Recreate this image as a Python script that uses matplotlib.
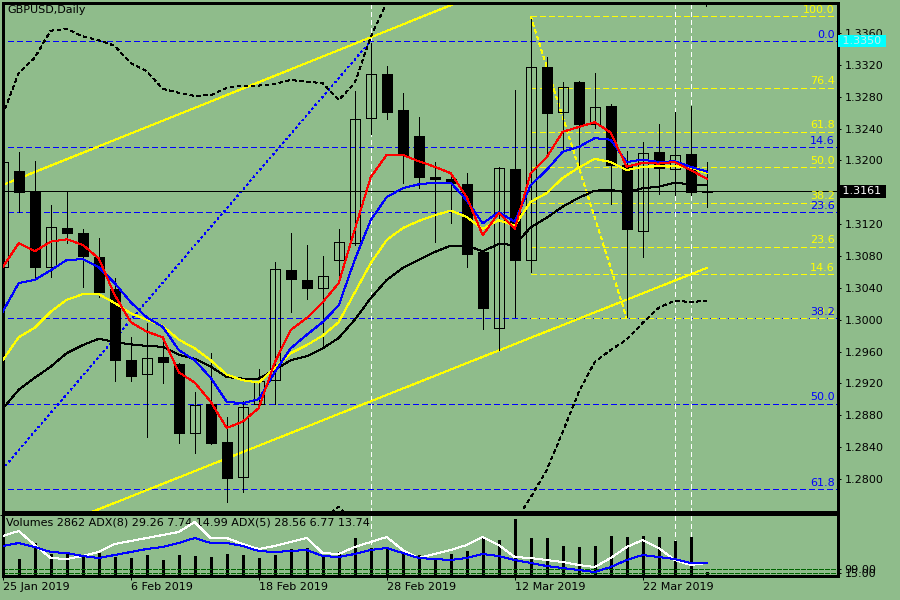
import numpy as np
import matplotlib
matplotlib.use('Agg')
from matplotlib import pyplot as plt

plt.rcParams['lines.scale_dashes'] = False
plt.rcParams['lines.antialiased'] = False
plt.rcParams['patch.antialiased'] = False
plt.rcParams['font.family'] = 'DejaVu Sans'

BG = '#8fbc8b'

# --- data (GBPUSD daily, 25 Jan - 28 Mar 2019) ---
date_labels = ['25 Jan 2019', '6 Feb 2019', '18 Feb 2019', '28 Feb 2019', '12 Mar 2019', '22 Mar 2019']
date_pos = [0, 8, 16, 24, 32, 40]

opens = [1.3066, 1.3187, 1.3162, 1.3066, 1.3115, 1.3109, 1.3079, 1.3039, 1.2949, 1.2932,
         1.2953, 1.2944, 1.2858, 1.2894, 1.2846, 1.2802, 1.2894, 1.2924, 1.3062, 1.3050,
         1.3040, 1.3075, 1.3096, 1.3253, 1.3309, 1.3263, 1.3231, 1.3179, 1.3177, 1.3170,
         1.3085, 1.2990, 1.3189, 1.3075, 1.3317, 1.3261, 1.3299, 1.3246, 1.3268, 1.3194,
         1.3111, 1.3211, 1.3189, 1.3208, 1.3160]
highs = [1.3205, 1.3211, 1.3199, 1.3144, 1.3160, 1.3114, 1.3103, 1.3052, 1.2978, 1.2996,
         1.2976, 1.2946, 1.2909, 1.2958, 1.2878, 1.2898, 1.2938, 1.3073, 1.3109, 1.3094,
         1.3080, 1.3114, 1.3287, 1.3348, 1.3319, 1.3285, 1.3255, 1.3198, 1.3183, 1.3184,
         1.3086, 1.3192, 1.3289, 1.3378, 1.3330, 1.3299, 1.3300, 1.3310, 1.3271, 1.3212,
         1.3223, 1.3246, 1.3261, 1.3268, 1.3198]
lows = [1.3060, 1.3135, 1.3054, 1.3054, 1.3096, 1.3041, 1.3029, 1.2923, 1.2923, 1.2853,
        1.2921, 1.2845, 1.2833, 1.2844, 1.2771, 1.2784, 1.2893, 1.2894, 1.3010, 1.3026,
        1.2967, 1.3047, 1.3094, 1.3233, 1.3252, 1.3172, 1.3165, 1.3098, 1.3121, 1.3066,
        1.2988, 1.2962, 1.3003, 1.3060, 1.3207, 1.3211, 1.3194, 1.3241, 1.3145, 1.3003,
        1.3079, 1.3158, 1.3157, 1.3157, 1.3142]
closes = [1.3198, 1.3160, 1.3066, 1.3116, 1.3109, 1.3080, 1.3035, 1.2949, 1.2929, 1.2952,
          1.2947, 1.2858, 1.2893, 1.2845, 1.2801, 1.2890, 1.2923, 1.3064, 1.3051, 1.3040,
          1.3055, 1.3098, 1.3252, 1.3309, 1.3261, 1.3207, 1.3179, 1.3177, 1.3172, 1.3083,
          1.3015, 1.3191, 1.3075, 1.3317, 1.3260, 1.3292, 1.3246, 1.3267, 1.3194, 1.3114,
          1.3209, 1.3191, 1.3207, 1.3160, 1.3161]

ma_red = [1.3066, 1.3096, 1.3086, 1.3098, 1.3101, 1.3094, 1.3077, 1.3031, 1.2997, 1.2985,
          1.2978, 1.2934, 1.2921, 1.2897, 1.2864, 1.2872, 1.2889, 1.2946, 1.2987, 1.3002,
          1.3022, 1.3046, 1.3113, 1.3179, 1.3207, 1.3207, 1.3199, 1.3192, 1.3184, 1.3154,
          1.3106, 1.3134, 1.3114, 1.3184, 1.3204, 1.3236, 1.3242, 1.3248, 1.3235, 1.3192,
          1.3197, 1.3196, 1.3198, 1.3188, 1.3177]
ma_blue = [1.3010, 1.3046, 1.3050, 1.3062, 1.3075, 1.3076, 1.3066, 1.3046, 1.3022, 1.3003,
           1.2991, 1.2962, 1.2949, 1.2927, 1.2897, 1.2895, 1.2900, 1.2934, 1.2964, 1.2981,
           1.2997, 1.3018, 1.3075, 1.3125, 1.3154, 1.3165, 1.3170, 1.3172, 1.3172, 1.3150,
           1.3121, 1.3135, 1.3123, 1.3169, 1.3188, 1.3211, 1.3217, 1.3228, 1.3226, 1.3198,
           1.3201, 1.3198, 1.3199, 1.3192, 1.3186]
ma_yellow = [1.2949, 1.2978, 1.2990, 1.3010, 1.3025, 1.3032, 1.3032, 1.3021, 1.3008, 1.3000,
             1.2992, 1.2975, 1.2964, 1.2949, 1.2931, 1.2924, 1.2921, 1.2939, 1.2958, 1.2968,
             1.2980, 1.2997, 1.3034, 1.3071, 1.3100, 1.3115, 1.3124, 1.3131, 1.3137, 1.3129,
             1.3114, 1.3125, 1.3118, 1.3148, 1.3159, 1.3178, 1.3191, 1.3202, 1.3198, 1.3188,
             1.3192, 1.3193, 1.3193, 1.3191, 1.3184]
ma_black = [1.2888, 1.2912, 1.2927, 1.2941, 1.2958, 1.2968, 1.2976, 1.2972, 1.2969, 1.2967,
            1.2966, 1.2956, 1.2951, 1.2941, 1.2928, 1.2926, 1.2926, 1.2937, 1.2949, 1.2954,
            1.2964, 1.2977, 1.3000, 1.3027, 1.3050, 1.3065, 1.3075, 1.3085, 1.3093, 1.3093,
            1.3086, 1.3095, 1.3094, 1.3116, 1.3128, 1.3142, 1.3153, 1.3162, 1.3163, 1.3160,
            1.3165, 1.3167, 1.3172, 1.3170, 1.3169]
band_up = [1.3257, 1.3310, 1.3329, 1.3363, 1.3365, 1.3356, 1.3351, 1.3344, 1.3322, 1.3312,
           1.3290, 1.3285, 1.3281, 1.3282, 1.3291, 1.3294, 1.3294, 1.3296, 1.3301, 1.3299,
           1.3297, 1.3276, 1.3297, 1.3355, 1.3398, 1.3430, 1.3450, 1.3460, 1.3465, 1.3465,
           1.3460, 1.3455, 1.3450, 1.3470, 1.3480, 1.3480, 1.3475, 1.3470, 1.3460, 1.3450,
           1.3440, 1.3430, 1.3415, 1.3405, 1.3394]
band_dn = [1.2720, 1.2705, 1.2690, 1.2670, 1.2660, 1.2655, 1.2650, 1.2650, 1.2655, 1.2660,
           1.2665, 1.2670, 1.2675, 1.2680, 1.2690, 1.2700, 1.2710, 1.2720, 1.2730, 1.2740,
           1.2750, 1.2765, 1.2745, 1.2700, 1.2680, 1.2670, 1.2665, 1.2665, 1.2670, 1.2680,
           1.2700, 1.2720, 1.2745, 1.2777, 1.2811, 1.2859, 1.2909, 1.2947, 1.2962, 1.2975,
           1.2996, 1.3015, 1.3024, 1.3022, 1.3024]

volumes = [15000, 11650, 22600, 15080, 15760, 13020, 15760, 13020, 12340, 14390,
           10970, 14390, 13710, 13020, 15080, 14390, 12340, 14390, 18500, 19190,
           13710, 16450, 26040, 19190, 19870, 16450, 14390, 12340, 15080, 17130,
           26040, 24670, 39060, 26040, 26040, 20560, 19870, 20560, 27410, 26730,
           27410, 26730, 23990, 26730, 2862]
adx_white = [32.0, 36.0, 24.8, 14.4, 13.6, 16.0, 19.2, 25.6, 28.0, 30.4,
             32.8, 35.2, 43.2, 30.4, 30.4, 25.6, 21.6, 24.0, 27.2, 30.4,
             18.4, 17.6, 23.2, 27.2, 31.2, 20.8, 14.4, 17.6, 20.8, 24.8,
             31.2, 24.8, 15.2, 14.4, 12.8, 11.2, 8.8, 7.2, 14.4, 23.2,
             28.8, 22.4, 12.8, 8.8, 10.4]
adx_blue = [24.0, 26.4, 23.2, 19.2, 18.4, 16.0, 14.4, 16.8, 19.2, 21.6,
            23.2, 26.4, 30.4, 26.4, 26.4, 24.0, 20.0, 19.2, 20.0, 20.8,
            16.0, 15.2, 17.6, 20.8, 22.4, 18.4, 14.4, 13.6, 12.8, 14.4,
            17.6, 16.0, 12.8, 10.4, 8.0, 6.4, 4.8, 3.2, 7.2, 12.8,
            16.8, 15.2, 13.6, 10.4, 10.4]
adx_levels = [2.4, 5.6]
adx_level_labels = ['15.00', '99.00']

bid = 1.3161
price_ticks = [1.2800, 1.2840, 1.2880, 1.2920, 1.2960, 1.3000, 1.3040, 1.3080,
               1.3120, 1.3200, 1.3240, 1.3280, 1.3320, 1.3360]

fib_ratios = [0.0, 14.6, 23.6, 38.2, 50.0, 61.8, 76.4, 100.0]
blue_fib = (23, 1.3350, -16, 1.2439)     # (bar, 0% price, bar, 100% price)
yellow_fib = (33, 1.3381, 39, 1.3002)    # (bar, 100% price, bar, 0% price)
upper_trend = ([-5, 29], [1.3129, 1.3403])
lower_trend = ([5, 44], [1.2754, 1.3065])
vlines_at = [23, 42, 43]

study_text = 'Volumes 2862 ADX(8) 29.26 7.74 14.99 ADX(5) 28.56 6.77 13.74'

# --- layout ---
W, H = 900, 600


def rect(l, t, r, b):
    return [l / W, 1 - b / H, (r - l) / W, (b - t) / H]


fig = plt.figure(figsize=(9, 6), dpi=100, facecolor=BG)
ax = fig.add_axes(rect(2.7, 2.7, 838, 511.5), facecolor=BG)
ax2 = fig.add_axes(rect(2.7, 513.5, 838, 576), facecolor=BG)

x = np.arange(len(opens))
xmax = (838 - 2.7) / 16.0
ax.set_xlim(0, xmax)
ax.set_ylim(1.27591, 1.33981)

LW = 0.72
BLUE = '#0000ff'
YEL = '#ffff00'

# fib levels
b_bar0, b_p0, b_bar1, b_p1 = blue_fib
for r in fib_ratios:
    lvl = b_p0 + (b_p1 - b_p0) * r / 100.0
    ax.plot([b_bar1, xmax + 1], [lvl, lvl], color=BLUE, lw=LW, dashes=(3.6, 2.2), zorder=1)
    if 1.2762 < lvl < 1.3395:
        ax.annotate('%.1f' % r, xy=(1, lvl), xycoords=ax.get_yaxis_transform(),
                    xytext=(-2.2, 1.0), textcoords='offset points', ha='right', va='bottom',
                    color=BLUE, fontsize=8, zorder=7)
ax.plot([b_bar1, b_bar0], [b_p1, b_p0], color=BLUE, lw=LW, dashes=(1.4, 2.2), zorder=1)

y_bar0, y_hi, y_bar1, y_lo = yellow_fib
for r in fib_ratios:
    lvl = y_lo + (y_hi - y_lo) * r / 100.0
    ax.plot([y_bar0, xmax + 1], [lvl, lvl], color=YEL, lw=LW, dashes=(3.6, 2.2), zorder=1.2)
    ax.annotate('%.1f' % r, xy=(1, lvl), xycoords=ax.get_yaxis_transform(),
                xytext=(-2.2, 1.0), textcoords='offset points', ha='right', va='bottom',
                color=YEL, fontsize=8, zorder=6)
ax.plot([y_bar0, y_bar1], [y_hi, y_lo], color=YEL, lw=LW, dashes=(2.2, 2.2), zorder=1.2)

# channel trendlines
ax.plot(upper_trend[0], upper_trend[1], color=YEL, lw=LW, zorder=1.5)
ax.plot(lower_trend[0], lower_trend[1], color=YEL, lw=LW, zorder=1.5)

# vertical markers and bid line
for v in vlines_at:
    ax.axvline(v, color='white', lw=LW, dashes=(2.9, 2.2), zorder=1.3)
    ax2.axvline(v, color='white', lw=LW, dashes=(2.9, 2.2), zorder=1)
ax.axhline(bid, color='black', lw=LW, zorder=1.4)

# bands
ax.plot(x, band_up, color='black', lw=LW, dashes=(2.2, 2.2), zorder=2)
ax.plot(x, band_dn, color='black', lw=LW, dashes=(2.2, 2.2), zorder=2)

# candles
o = np.array(opens)
c = np.array(closes)
ax.vlines(x, lows, highs, color='black', lw=LW, antialiased=False, zorder=3)
up = c >= o
bottom = np.minimum(o, c)
height = np.maximum(np.abs(c - o), 0.00003)
ax.bar(x[up], height[up], bottom=bottom[up], width=0.625, facecolor='none',
       edgecolor='black', lw=LW, zorder=3.1)
ax.bar(x[~up], height[~up], bottom=bottom[~up], width=0.625, facecolor='black',
       edgecolor='black', lw=LW, zorder=3.1)

# moving averages
ax.plot(x, ma_black, color='black', lw=LW, zorder=4)
ax.plot(x, ma_yellow, color=YEL, lw=LW, zorder=4)
ax.plot(x, ma_blue, color=BLUE, lw=LW, zorder=4)
ax.plot(x, ma_red, color='#ff0000', lw=LW, zorder=4)

ax.text(0.005, 0.9945, 'GBPUSD,Daily', transform=ax.transAxes, ha='left', va='top',
        fontsize=8, color='black')

# right price axis
ax.yaxis.tick_right()
ax.set_yticks(price_ticks)
ax.set_yticklabels(['%.4f' % t for t in price_ticks])
ax.tick_params(axis='y', direction='out', length=2.5, width=LW, pad=2.2, labelsize=8,
               colors='black')
ax.set_xticks([])
for s in ax.spines.values():
    s.set_linewidth(0.8)

ax.annotate(' 1.3350 ', xy=(1, 1.3350), xycoords=ax.get_yaxis_transform(),
            xytext=(0.6, 0), textcoords='offset points', ha='left', va='center',
            fontsize=8, color='#c4ecec', zorder=10,
            bbox=dict(boxstyle='square,pad=0.1', fc='#00ffff', ec='none'))
ax.annotate(' %.4f ' % bid, xy=(1, bid), xycoords=ax.get_yaxis_transform(),
            xytext=(0.6, 0), textcoords='offset points', ha='left', va='center',
            fontsize=8, color='white', zorder=10,
            bbox=dict(boxstyle='square,pad=0.1', fc='black', ec='none'))

# lower panel: volumes + ADX
ax2.set_xlim(0, xmax)
ax2.set_ylim(0, 41806 * 62.5 / 61.0)
ax2.vlines(x, 0, volumes, color='black', lw=0.9, antialiased=False, zorder=2)
ax2.yaxis.tick_right()
ax2.set_yticks([41806])
ax2.set_yticklabels(['41806'], va='top')
ax2.tick_params(axis='y', direction='out', length=2.5, width=LW, pad=2.2, labelsize=8)
ax2.set_xticks(date_pos)
ax2.set_xticklabels(date_labels, ha='left')
ax2.tick_params(axis='x', direction='out', length=3, width=LW, pad=1.5, labelsize=8)
for s in ax2.spines.values():
    s.set_linewidth(0.8)

ax3 = ax2.twinx()
ax3.set_ylim(0, 50)
ax3.set_xlim(0, xmax)
ax3.plot(x, adx_white, color='white', lw=LW, zorder=3)
ax3.plot(x, adx_blue, color=BLUE, lw=LW, zorder=3)
for lv in adx_levels:
    ax3.axhline(lv, color='#006400', lw=LW, dashes=(2.9, 1.4), zorder=2)
ax3.set_yticks(adx_levels)
ax3.set_yticklabels(adx_level_labels)
ax3.tick_params(axis='y', direction='out', length=2.5, width=LW, pad=2.2, labelsize=8)
for s in ax3.spines.values():
    s.set_linewidth(0.8)

ax2.text(0.004, 0.93, study_text, transform=ax2.transAxes, ha='left', va='top',
         fontsize=8, color='black', zorder=5)

fig.savefig('out.png', dpi=100, facecolor=BG)
